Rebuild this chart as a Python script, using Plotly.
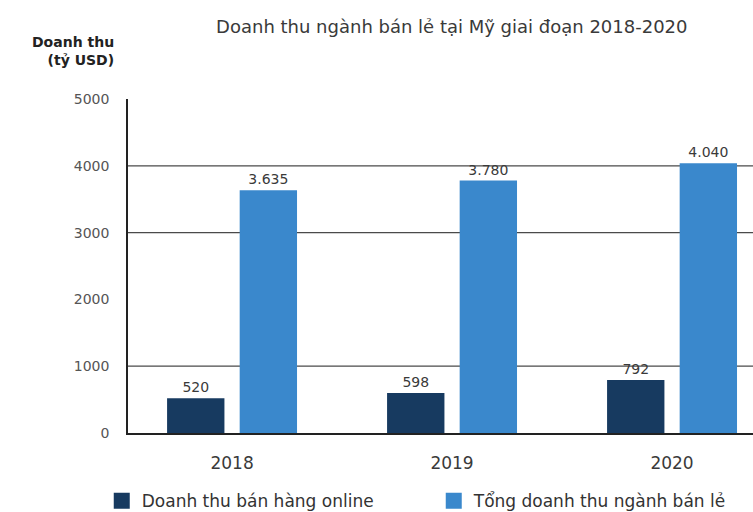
import plotly.graph_objects as go

# Retail revenue in the US, 2018-2020 (billion USD)
years = ["2018", "2019", "2020"]
online_revenue = [520, 598, 792]
total_retail_revenue = [3635, 3780, 4040]
y_ticks = [0, 1000, 2000, 3000, 4000, 5000]
grid_values = [1000, 3000, 4000]

series_names = ["Doanh thu bán hàng online", "Tổng doanh thu ngành bán lẻ"]
series_colors = ["#173a60", "#3a88cc"]
font_family = "DejaVu Sans, Noto Sans, sans-serif"
text_color = "#3a3a3a"

fig = go.Figure()
for name, values, color in zip(series_names, [online_revenue, total_retail_revenue], series_colors):
    fig.add_trace(go.Bar(
        x=years, y=values, name=name, showlegend=False,
        marker=dict(color=color, line=dict(width=0)),
        texttemplate="%{y:,}", textposition="outside",
        textfont=dict(size=14, color=text_color), cliponaxis=False,
    ))
# legend entries with larger square swatches
for name, color in zip(series_names, series_colors):
    fig.add_trace(go.Scatter(
        x=[None], y=[None], mode="markers", name=name,
        marker=dict(symbol="square", size=17, color=color),
    ))

# horizontal reference lines behind the bars
for v in grid_values:
    fig.add_shape(type="line", xref="paper", yref="y", x0=0, x1=1, y0=v, y1=v,
                  line=dict(color="#4a4a4a", width=1.2), layer="below")

fig.update_layout(
    width=753, height=512,
    margin=dict(l=128, r=0, t=99, b=79, autoexpand=False),
    paper_bgcolor="white", plot_bgcolor="white",
    separators=",.",
    barmode="group", bargap=0.34, bargroupgap=0.21,
    font=dict(family=font_family, color=text_color),
    title=dict(text="Doanh thu ngành bán lẻ tại Mỹ giai đoạn 2018-2020",
               x=0.6, xanchor="center", y=0.947, yanchor="middle",
               font=dict(size=18, color="#3a3a3a")),
    showlegend=True,
    legend=dict(orientation="h", x=-0.042, xanchor="left", y=-0.15, yanchor="top",
                entrywidth=287, entrywidthmode="pixels", itemsizing="trace",
                font=dict(size=17, color="#333333"), traceorder="normal"),
    xaxis=dict(type="category", range=[-0.473, 2.368],
               showline=True, linecolor="#222222", linewidth=1.5,
               ticks="", showgrid=False, ticklabelstandoff=14,
               tickfont=dict(size=17, color="#3a3a3a")),
    yaxis=dict(range=[0, 5000], tickvals=y_ticks,
               showline=True, linecolor="#222222", linewidth=1.5,
               ticks="", showgrid=False, zeroline=False, ticklabelstandoff=14,
               tickfont=dict(size=14, color="#555555")),
)

fig.add_annotation(text="<b>Doanh thu</b><br><b>(tỷ USD)</b>",
                   xref="paper", yref="paper", x=-0.02, y=1.0, xanchor="right",
                   yanchor="bottom", yshift=29, align="right", showarrow=False,
                   font=dict(size=14, color="#222222"))

fig.write_html("out.html")
